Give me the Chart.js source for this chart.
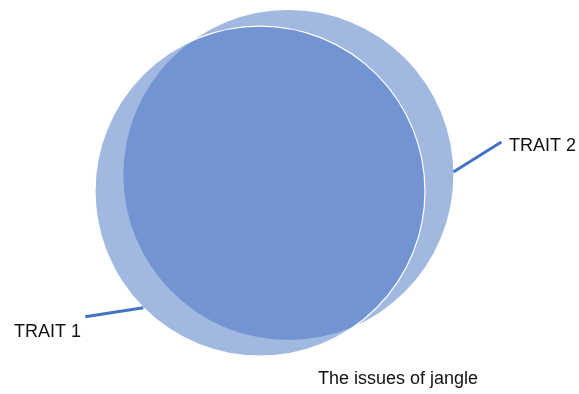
<!doctype html>
<html lang="en">
  <head>
    <script type="text/javascript" src="https://cdn.jsdelivr.net/npm/chart.js@4.4.1/dist/chart.umd.min.js"></script>
    <title>The issues of jangle</title>
    <style>
      body { margin: 0; background: #fff; }
    </style>
  </head>
  <body>
    <div style="width: 579px; height: 394px;"><canvas id="jangleChart"></canvas></div>
  </body>

  <script>
    // two traits, placed on a 0-100 grid (y runs top to bottom)
    const traits = ['TRAIT 1', 'TRAIT 2'];
    const traitX = [44.9, 49.8];
    const traitY = [48.5, 44.4];
    const traitSize = [165, 165];
    const chartTitle = 'The issues of jangle';

    const fillColor = 'rgba(68, 114, 196, 0.5)';
    const lineColor = 'rgb(68, 114, 196)';

    // leader lines: angle out of the circle (deg), then end offset in px, and text spot
    const callouts = [
        { angle: 135, dx: -58, dy: 9, textX: 14, textY: 337 },
        { angle: -1, dx: 48, dy: -30, textX: 509, textY: 151 }
    ];

    // big bubbles would otherwise shrink the plot area to make room for themselves
    Chart.BubbleController.prototype.getMaxOverflow = function () { return false; };

    const calloutPlugin = {
        id: 'callouts',
        afterDatasetsDraw(chart) {
            const ctx = chart.ctx;
            ctx.save();
            for (let i = 0; i < traits.length; i++) {
                const el = chart.getDatasetMeta(i).data[0];
                const c = callouts[i];
                const a = c.angle * Math.PI / 180;
                const sx = el.x + Math.cos(a) * traitSize[i];
                const sy = el.y + Math.sin(a) * traitSize[i];
                ctx.strokeStyle = lineColor;
                ctx.lineWidth = 3;
                ctx.beginPath();
                ctx.moveTo(sx, sy);
                ctx.lineTo(sx + c.dx, sy + c.dy);
                ctx.stroke();

                ctx.fillStyle = '#111';
                ctx.font = '18px "Liberation Sans", Arial, sans-serif';
                ctx.textAlign = 'left';
                ctx.textBaseline = 'alphabetic';
                ctx.fillText(traits[i], c.textX, c.textY);
            }
            ctx.fillText(chartTitle, 318, 384);
            ctx.restore();
        }
    };

    // dataset 0 is painted last, so TRAIT 1 sits on top with its white rim
    const datasets = traits.map((name, i) => ({
        label: name,
        data: [{ x: traitX[i], y: traitY[i], r: traitSize[i] }],
        backgroundColor: fillColor,
        borderColor: '#ffffff',
        borderWidth: i === 0 ? 1.2 : 0,
        clip: false
    }));

    new Chart(
        document.getElementById('jangleChart'),
        {
        type: 'bubble',
        data: { datasets: datasets },
        options: {
            responsive: true,
            maintainAspectRatio: false,
            animation: false,
            events: [],
            layout: { padding: 0 },
            scales: {
                x: { display: false, min: 0, max: 100 },
                y: { display: false, min: 0, max: 100, reverse: true }
            },
            plugins: {
                legend: { display: false },
                tooltip: { enabled: false }
            }
        },
        plugins: [calloutPlugin]
        }
    );
  </script>
</html>
